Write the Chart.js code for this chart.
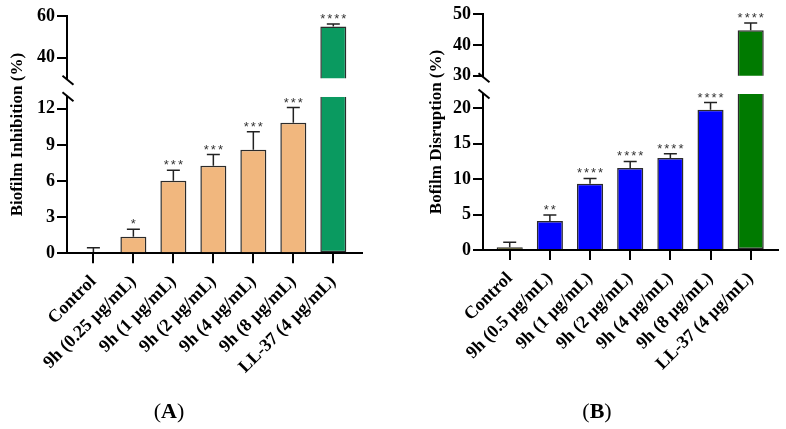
<!DOCTYPE html>
<html>
<head>
<meta charset="utf-8">
<script src="https://cdn.jsdelivr.net/npm/chart.js@4.4.1/dist/chart.umd.min.js"></script>
<style>
  html, body { margin: 0; padding: 0; background: #fff; }
  body { width: 786px; height: 429px; position: relative; overflow: hidden; font-family: 'Liberation Serif', 'Times New Roman', serif; }
  .panel { position: absolute; top: 0; width: 393px; height: 429px; }
  .caption { position: absolute; top: 398px; font-size: 22px; line-height: 25px; color: #000; transform: translateX(-50%); }
</style>
</head>
<body>
<div class="panel" style="left:0"><canvas id="chartA" width="393" height="429"></canvas></div>
<div class="panel" style="left:393px"><canvas id="chartB" width="393" height="429"></canvas></div>
<div class="caption" style="left:169px">(<b>A</b>)</div>
<div class="caption" style="left:597px">(<b>B</b>)</div>
<script>
// panel A - biofilm inhibition
const categoriesA = ["Control", "9h (0.25 μg/mL)", "9h (1 μg/mL)", "9h (2 μg/mL)", "9h (4 μg/mL)", "9h (8 μg/mL)", "LL-37 (4 μg/mL)"];
const valuesA = [0.1, 1.38, 6.02, 7.27, 8.6, 10.84, 54.9];
const errorsA = [0.36, 0.61, 0.88, 0.93, 1.5, 1.26, 1.3];
const starsA = ["", "*", "***", "***", "***", "***", "****"];
const colorsA = ["#f1b77e", "#f1b77e", "#f1b77e", "#f1b77e", "#f1b77e", "#f1b77e", "#0a9a60"];
const lowerTicksA = [0, 3, 6, 9, 12];
const upperTicksA = [40, 60];
const lowerRangeA = [0, 13];
const upperRangeA = [30, 60];

// panel B - biofilm disruption
const categoriesB = ["Control", "9h (0.5 μg/mL)", "9h (1 μg/mL)", "9h (2 μg/mL)", "9h (4 μg/mL)", "9h (8 μg/mL)", "LL-37 (4 μg/mL)"];
const valuesB = [0.4, 4.09, 9.36, 11.57, 12.98, 19.8, 44.7];
const errorsB = [0.68, 0.85, 0.74, 0.93, 0.62, 1.0, 2.4];
const starsB = ["", "**", "****", "****", "****", "****", "****"];
const colorsB = ["#6b6943", "#0000ff", "#0000ff", "#0000ff", "#0000ff", "#0000ff", "#007a00"];
const lowerTicksB = [0, 5, 10, 15, 20];
const upperTicksB = [30, 40, 50];
const lowerRangeB = [0, 22];
const upperRangeB = [30, 50];

Chart.defaults.font.family = "'Liberation Serif', 'Times New Roman', serif";
Chart.defaults.font.weight = "bold";
Chart.defaults.font.size = 18;
Chart.defaults.color = "#000";

// error bars, stars, axis break marks and the y title
const panelExtras = {
    id: "panelExtras",
    afterDatasetsDraw(chart, args, opts) {
        const ctx = chart.ctx;
        const xs = chart.scales.x, lo = chart.scales.yLower, up = chart.scales.yUpper;
        ctx.save();
        ctx.strokeStyle = "#222";
        ctx.lineWidth = 1.5;
        ctx.fillStyle = "#333";
        ctx.font = "13px 'Liberation Sans', Arial, sans-serif";
        ctx.textAlign = "center";
        ctx.textBaseline = "alphabetic";
        ctx.letterSpacing = "2px";
        opts.values.forEach((v, i) => {
            const s = v > opts.lowerMax ? up : lo;
            const px = xs.getPixelForValue(i);
            const yTop = s.getPixelForValue(v);
            const yErr = s.getPixelForValue(v + opts.errors[i]);
            ctx.beginPath();
            ctx.moveTo(px, yTop);
            ctx.lineTo(px, yErr);
            ctx.moveTo(px - 6.5, yErr);
            ctx.lineTo(px + 6.5, yErr);
            ctx.stroke();
            if (opts.stars[i]) {
                ctx.fillText(opts.stars[i], px + 1, yErr - 1);
            }
        });
        ctx.restore();
    },
    afterDraw(chart, args, opts) {
        const ctx = chart.ctx;
        const area = chart.chartArea;
        const lo = chart.scales.yLower, up = chart.scales.yUpper;
        const ax = area.left;
        ctx.save();
        ctx.strokeStyle = "#000";
        ctx.lineWidth = 2;
        [up.bottom + 2, lo.top].forEach(y => {
            ctx.beginPath();
            ctx.moveTo(ax - 4.5, y - 4.5);
            ctx.lineTo(ax + 6.5, y + 4.5);
            ctx.stroke();
        });
        ctx.translate(opts.titleX, (area.top + area.bottom) / 2);
        ctx.rotate(-Math.PI / 2);
        ctx.font = "bold 17px 'Liberation Serif', 'Times New Roman', serif";
        ctx.fillStyle = "#000";
        ctx.textAlign = "center";
        ctx.textBaseline = "middle";
        ctx.fillText(opts.title, 0, 0);
        ctx.restore();
    }
};

function yScale(range, ticks, weight, width) {
    return {
        type: "linear",
        position: "left",
        stack: "y",
        stackWeight: weight,
        min: range[0],
        max: range[1],
        afterBuildTicks: s => { s.ticks = ticks.map(v => ({ value: v })); },
        afterFit: s => { s.width = width; },
        border: { display: true, color: "#000", width: 2 },
        grid: { drawOnChartArea: false, drawTicks: true, tickLength: 10, color: "#000", lineWidth: 2 },
        ticks: { color: "#000", padding: 2, font: { size: 18, weight: "bold" } }
    };
}

function gapScale(weight, width) {
    return {
        type: "linear",
        position: "left",
        stack: "y",
        stackWeight: weight,
        min: 0,
        max: 1,
        afterBuildTicks: s => { s.ticks = []; },
        afterFit: s => { s.width = width; },
        border: { display: false },
        grid: { display: false },
        ticks: { display: false }
    };
}

function makePanel(canvasId, p) {
    const lowerMax = p.lowerRange[1];
    const upperMin = p.upperRange[0];
    const lowerData = p.values.map((v, i) => ({ x: i, y: Math.min(v, lowerMax) }));
    const upperData = p.values.map((v, i) => ({ x: i, y: v > upperMin ? v : null }));

    new Chart(document.getElementById(canvasId), {
        type: "bar",
        data: {
            datasets: [{
                data: lowerData,
                xAxisID: "x",
                yAxisID: "yLower",
                backgroundColor: p.colors,
                borderSkipped: c => p.values[c.dataIndex] > lowerMax ? "end" : "start"
            }, {
                data: upperData,
                xAxisID: "x",
                yAxisID: "yUpper",
                backgroundColor: p.colors,
                borderSkipped: "start"
            }]
        },
        options: {
            responsive: false,
            animation: false,
            layout: { padding: p.padding },
            datasets: {
                bar: {
                    grouped: false,
                    barPercentage: 0.65,
                    categoryPercentage: 1,
                    borderWidth: 1.5,
                    borderColor: "#2b2b2b"
                }
            },
            scales: {
                x: {
                    type: "linear",
                    position: "bottom",
                    offset: false,
                    min: p.xRange[0],
                    max: p.xRange[1],
                    afterBuildTicks: s => { s.ticks = p.categories.map((c, i) => ({ value: i })); },
                    afterFit: s => { s.height = p.xHeight; },
                    border: { display: true, color: "#000", width: 2 },
                    grid: { offset: false, drawOnChartArea: false, drawTicks: true, tickLength: 10, color: "#000", lineWidth: 2 },
                    ticks: {
                        autoSkip: false,
                        minRotation: 45,
                        maxRotation: 45,
                        padding: 8,
                        color: "#000",
                        font: { size: 18, weight: "bold" },
                        callback: v => p.categories[v] ?? ""
                    }
                },
                yLower: yScale(p.lowerRange, p.lowerTicks, p.weights[2], p.yWidth),
                yGap: gapScale(p.weights[1], p.yWidth),
                yUpper: yScale(p.upperRange, p.upperTicks, p.weights[0], p.yWidth)
            },
            plugins: {
                legend: { display: false },
                tooltip: { enabled: false },
                panelExtras: {
                    values: p.values,
                    errors: p.errors,
                    stars: p.stars,
                    lowerMax: lowerMax,
                    title: p.title,
                    titleX: p.titleX
                }
            }
        },
        plugins: [panelExtras]
    });
}

makePanel("chartA", {
    categories: categoriesA, values: valuesA, errors: errorsA, stars: starsA, colors: colorsA,
    lowerTicks: lowerTicksA, upperTicks: upperTicksA, lowerRange: lowerRangeA, upperRange: upperRangeA,
    title: "Biofilm Inhibition (%)", titleX: 18,
    xRange: [-0.66, 6.71], xHeight: 175.7, yWidth: 67,
    weights: [62.3, 18.4, 156.6],
    padding: { top: 16, right: 31.3, bottom: 0, left: 0 }
});

makePanel("chartB", {
    categories: categoriesB, values: valuesB, errors: errorsB, stars: starsB, colors: colorsB,
    lowerTicks: lowerTicksB, upperTicks: upperTicksB, lowerRange: lowerRangeB, upperRange: upperRangeB,
    title: "Bofilm Disruption (%)", titleX: 44,
    xRange: [-0.665, 6.68], xHeight: 179, yWidth: 90,
    weights: [61.7, 18.4, 155.9],
    padding: { top: 14, right: 8, bottom: 0, left: 0 }
});
</script>
</body>
</html>
